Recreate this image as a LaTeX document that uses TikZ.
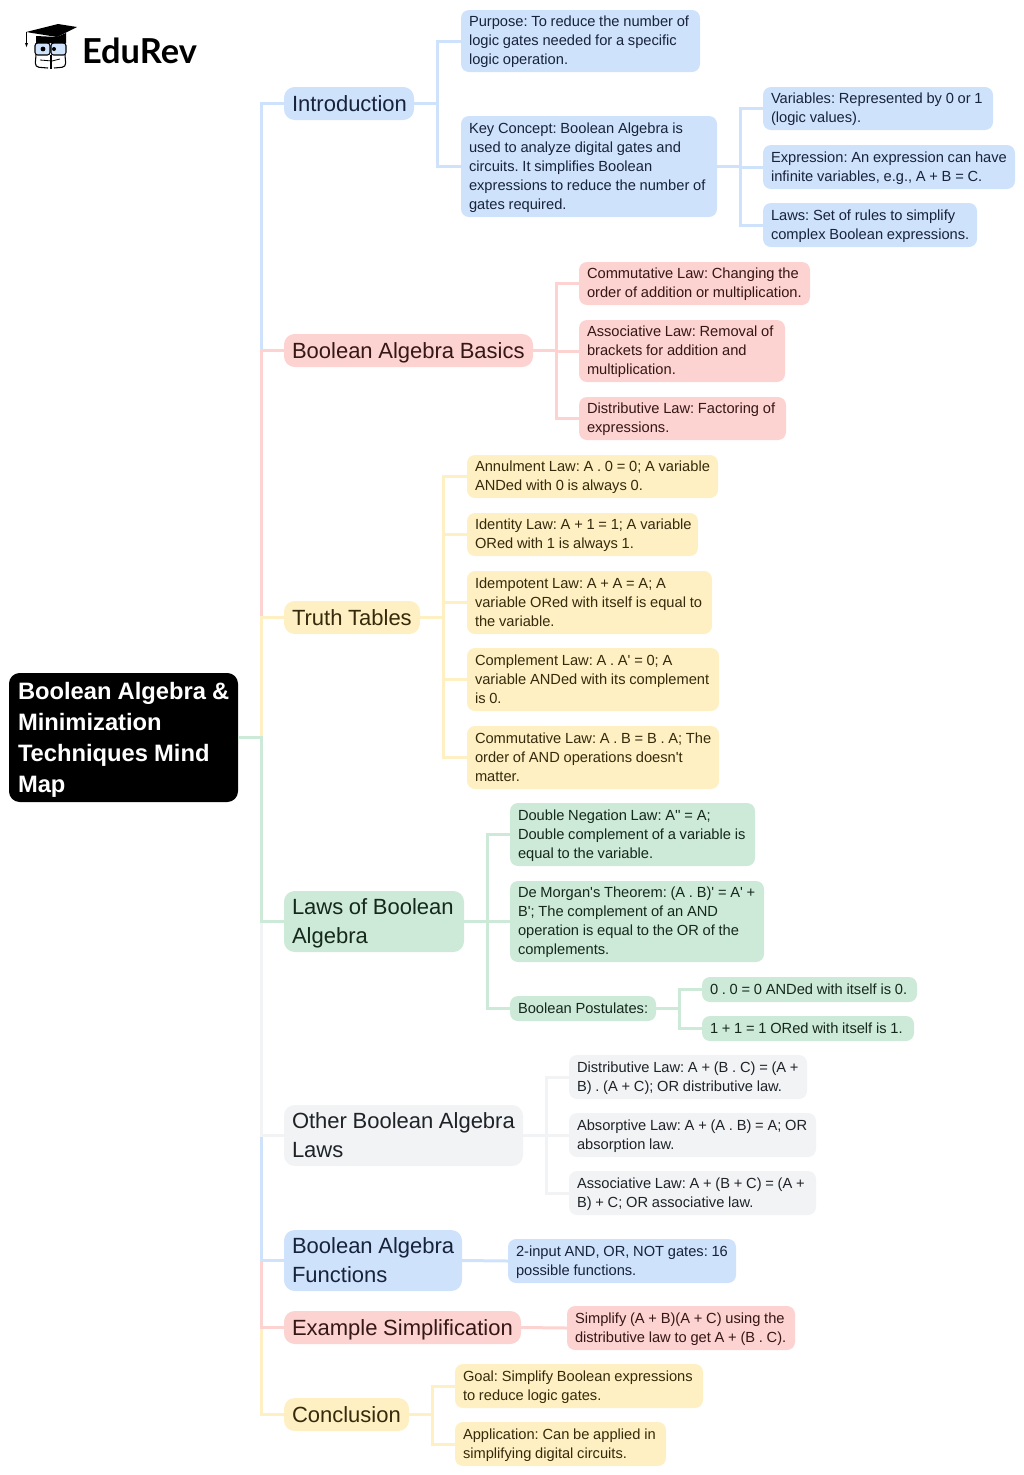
\documentclass[tikz,border=0pt]{standalone}
\usepackage{fontspec}
\defaultfontfeatures[\rmfamily]{}
\setmainfont{Liberation Sans}[Ligatures=ResetAll]
\newfontfamily\logofont{Lato}
\definecolor{bluefill}{HTML}{CFE2FB}
\definecolor{redfill}{HTML}{FCD3D0}
\definecolor{yellowfill}{HTML}{FEF0C3}
\definecolor{greenfill}{HTML}{CDE9D7}
\definecolor{greyfill}{HTML}{F1F3F5}
\definecolor{bluetext}{HTML}{17233A}
\definecolor{redtext}{HTML}{351715}
\definecolor{yellowtext}{HTML}{352B0C}
\definecolor{greentext}{HTML}{15281C}
\definecolor{greytext}{HTML}{1F2327}
\tikzset{
    box/.style={anchor=north west,outer sep=0pt,rounded corners=6pt,inner xsep=6pt,inner ysep=0pt,align=left,
        execute at begin node={\rightskip=-20pt plus 1fil\relax\spaceskip=0.255em\relax\frenchspacing}},
    sized/.style 2 args={text width=#1*0.75pt-12pt,minimum height=#2*0.75pt},
    struts/.style 2 args={execute at begin node={\rule{0pt}{#1}},execute at end node={\rule[-#2]{0pt}{#2}}},
    leaf/.style={box,struts={10.2pt}{3pt},font=\fontsize{11}{14.25}\selectfont},
    topic/.style={box,rounded corners=8pt,struts={15.5pt}{4pt},font=\fontsize{16.5}{21.75}\selectfont},
    headnode/.style={box,rounded corners=8pt,fill=black,text=white,inner xsep=6.75pt,struts={16.5pt}{4pt},font=\fontsize{17.8}{23.25}\selectfont\bfseries},
    blueleaf/.style={leaf,fill=bluefill,text=bluetext},
    redleaf/.style={leaf,fill=redfill,text=redtext},
    yellowleaf/.style={leaf,fill=yellowfill,text=yellowtext},
    greenleaf/.style={leaf,fill=greenfill,text=greentext},
    greyleaf/.style={leaf,fill=greyfill,text=greytext},
    bluetopic/.style={topic,fill=bluefill,text=bluetext},
    redtopic/.style={topic,fill=redfill,text=redtext},
    yellowtopic/.style={topic,fill=yellowfill,text=yellowtext},
    greentopic/.style={topic,fill=greenfill,text=greentext},
    greytopic/.style={topic,fill=greyfill,text=greytext},
    branch/.style={to path={-- ++(17.25pt,0) |- (\tikztotarget)}},
}
\begin{document}
\begin{tikzpicture}[x=0.75pt,y=-0.75pt,line width=2.25pt]
    \useasboundingbox (0,0) rectangle (1024,1475);

    \node [headnode,text width=158.25pt,minimum height=96.75pt] (root) at (9,673) {Boolean Algebra \&\\Minimization\\Techniques Mind\\Map};

    \node [bluetopic,sized={130}{33}] (intro) at (284,87) {Introduction};
    \node [redtopic,sized={249}{33}] (basics) at (284,334) {Boolean Algebra Basics};
    \node [yellowtopic,sized={136}{33}] (truth) at (284,601) {Truth Tables};
    \node [greentopic,sized={180}{61}] (laws) at (284,891) {Laws of Boolean\\Algebra};
    \node [greytopic,sized={239}{61}] (other) at (284,1105) {Other Boolean Algebra\\Laws};
    \node [bluetopic,sized={178}{61}] (functions) at (284,1230) {Boolean Algebra\\Functions};
    \node [redtopic,sized={237}{33}] (example) at (284,1311) {Example Simplification};
    \node [yellowtopic,sized={125}{33}] (conclusion) at (284,1398) {Conclusion};

    \node [blueleaf,sized={239}{62}] (purpose) at (461,10) {Purpose: To reduce the number of\\logic gates needed for a specific\\logic operation.};
    \node [blueleaf,sized={256}{101}] (concept) at (461,116) {Key Concept: Boolean Algebra is\\used to analyze digital gates and\\circuits. It simplifies Boolean\\expressions to reduce the number of\\gates required.};
    \node [blueleaf,sized={230}{43}] (variables) at (763,87) {Variables: Represented by 0 or 1\\(logic values).};
    \node [blueleaf,sized={252}{44}] (expression) at (763,145) {Expression: An expression can have\\infinite variables, e.g., A + B = C.};
    \node [blueleaf,sized={214}{44}] (rules) at (763,203) {Laws: Set of rules to simplify\\complex Boolean expressions.};

    \node [redleaf,sized={231}{43}] (commutative) at (579,262) {Commutative Law: Changing the\\order of addition or multiplication.};
    \node [redleaf,sized={206}{62}] (associative) at (579,320) {Associative Law: Removal of\\brackets for addition and\\multiplication.};
    \node [redleaf,sized={207}{43}] (distributive) at (579,397) {Distributive Law: Factoring of\\expressions.};

    \node [yellowleaf,sized={251}{43}] (annulment) at (467,455) {Annulment Law: A . 0 = 0; A variable\\ANDed with 0 is always 0.};
    \node [yellowleaf,sized={231}{43}] (identity) at (467,513) {Identity Law: A + 1 = 1; A variable\\ORed with 1 is always 1.};
    \node [yellowleaf,sized={245}{63}] (idempotent) at (467,571) {Idempotent Law: A + A = A; A\\variable ORed with itself is equal to\\the variable.};
    \node [yellowleaf,sized={252}{63}] (complement) at (467,648) {Complement Law: A . A' = 0; A\\variable ANDed with its complement\\is 0.};
    \node [yellowleaf,sized={252}{63}] (andorder) at (467,726) {Commutative Law: A . B = B . A; The\\order of AND operations doesn't\\matter.};

    \node [greenleaf,sized={245}{63}] (negation) at (510,803) {Double Negation Law: A'' = A;\\Double complement of a variable is\\equal to the variable.};
    \node [greenleaf,sized={254}{81}] (demorgan) at (510,881) {De Morgan's Theorem: (A . B)' = A' +\\B'; The complement of an AND\\operation is equal to the OR of the\\complements.};
    \node [greenleaf,sized={146}{25}] (postulates) at (510,996) {Boolean Postulates:};
    \node [greenleaf,sized={215}{25}] (zeros) at (702,977) {0 . 0 = 0 ANDed with itself is 0.};
    \node [greenleaf,sized={212}{25}] (ones) at (702,1016) {1 + 1 = 1 ORed with itself is 1.};

    \node [greyleaf,sized={238}{44}] (ordistrib) at (569,1055) {Distributive Law: A + (B . C) = (A +\\B) . (A + C); OR distributive law.};
    \node [greyleaf,sized={247}{44}] (absorptive) at (569,1113) {Absorptive Law: A + (A . B) = A; OR\\absorption law.};
    \node [greyleaf,sized={247}{44}] (orassoc) at (569,1171) {Associative Law: A + (B + C) = (A +\\B) + C; OR associative law.};

    \node [blueleaf,sized={228}{44}] (gates) at (508,1239) {2-input AND, OR, NOT gates: 16\\possible functions.};
    \node [redleaf,sized={228}{44}] (simplify) at (567,1306) {Simplify (A + B)(A + C) using the\\distributive law to get A + (B . C).};
    \node [yellowleaf,sized={248}{44}] (goal) at (455,1364) {Goal: Simplify Boolean expressions\\to reduce logic gates.};
    \node [yellowleaf,sized={211}{44}] (application) at (455,1422) {Application: Can be applied in\\simplifying digital circuits.};

    \draw[bluefill] (root.east) to[branch] (intro.west);
    \draw[redfill] (root.east) to[branch] (basics.west);
    \draw[yellowfill] (root.east) to[branch] (truth.west);
    \draw[yellowfill] (root.east) to[branch] (conclusion.west);
    \draw[redfill] (root.east) to[branch] (example.west);
    \draw[bluefill] (root.east) to[branch] (functions.west);
    \draw[greyfill] (root.east) to[branch] (other.west);
    \draw[greenfill] (root.east) to[branch] (laws.west);

    \draw[bluefill] (intro.east) to[branch] (purpose.west);
    \draw[bluefill] (intro.east) to[branch] (concept.west);
    \draw[bluefill] (concept.east) to[branch] (variables.west);
    \draw[bluefill] (concept.east) to[branch] (expression.west);
    \draw[bluefill] (concept.east) to[branch] (rules.west);

    \draw[redfill] (basics.east) to[branch] (commutative.west);
    \draw[redfill] (basics.east) to[branch] (associative.west);
    \draw[redfill] (basics.east) to[branch] (distributive.west);

    \draw[yellowfill] (truth.east) to[branch] (annulment.west);
    \draw[yellowfill] (truth.east) to[branch] (identity.west);
    \draw[yellowfill] (truth.east) to[branch] (idempotent.west);
    \draw[yellowfill] (truth.east) to[branch] (complement.west);
    \draw[yellowfill] (truth.east) to[branch] (andorder.west);

    \draw[greenfill] (laws.east) to[branch] (negation.west);
    \draw[greenfill] (laws.east) to[branch] (demorgan.west);
    \draw[greenfill] (laws.east) to[branch] (postulates.west);
    \draw[greenfill] (postulates.east) to[branch] (zeros.west);
    \draw[greenfill] (postulates.east) to[branch] (ones.west);

    \draw[greyfill] (other.east) to[branch] (ordistrib.west);
    \draw[greyfill] (other.east) to[branch] (absorptive.west);
    \draw[greyfill] (other.east) to[branch] (orassoc.west);

    \draw[bluefill] (functions.east) -- (gates.west);
    \draw[redfill] (example.east) -- (simplify.west);
    \draw[yellowfill] (conclusion.east) to[branch] (goal.west);
    \draw[yellowfill] (conclusion.east) to[branch] (application.west);

    % logo
    \node [anchor=west,inner sep=0pt,outer sep=0pt,text=black,font=\fontsize{25.8}{28}\logofont\bfseries] (logo) at (82,51) {EduRev};
    \fill[black] (26,32) -- (58,24) -- (77,27) -- (57,37) -- cycle;
    \fill[black] (36,36) -- (57,37) -- (66,33) -- (66,43) -- (36,43) -- cycle;
    \draw[black,line width=0.6pt] (26.5,32) -- (26.5,44);
    \fill[black] (25,43) -- (28,43) -- (26.5,47) -- cycle;
    \draw[black,line width=0.8pt,fill=bluefill,rounded corners=2pt] (35,43) rectangle (50,55);
    \draw[black,line width=0.8pt,fill=bluefill,rounded corners=2pt] (51,43) rectangle (66,55);
    \fill[black] (43,49) circle (2.4);
    \fill[black] (54,49) circle (2);
    \draw[black,line width=0.8pt,rounded corners=3pt] (36,55) -- (35,67) -- (48,68);
    \draw[black,line width=0.8pt,rounded corners=3pt] (65,55) -- (66,67) -- (54,68);
    \draw[black,line width=0.8pt] (51,55) -- (51,69);
    \draw[black,line width=0.6pt] (40,60) -- (52,61) -- (60,59);
\end{tikzpicture}
\end{document}
